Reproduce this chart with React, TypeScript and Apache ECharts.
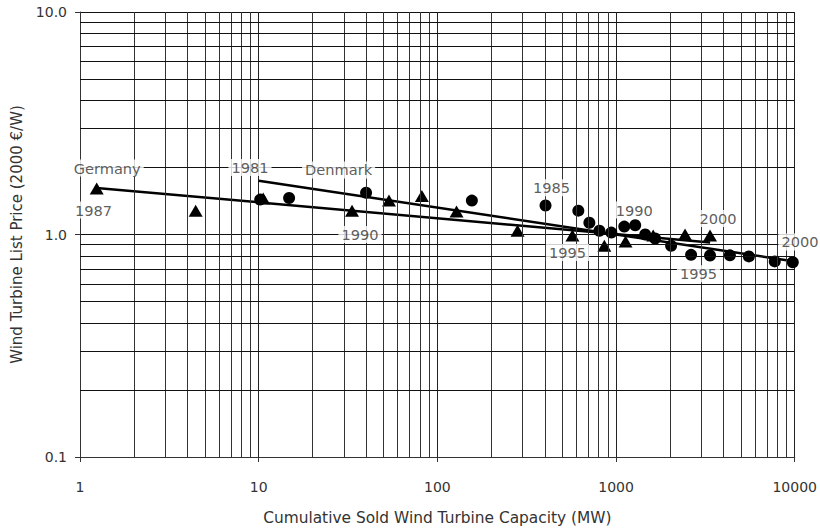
import React, { useEffect, useRef } from 'react';
import * as echarts from 'echarts';

// Tick values
const xTicks = [1, 10, 100, 1000, 10000];
const yTicks = [0.1, 1, 10];

// Germany (triangles)
const germanyX = [1.24, 4.44, 10.6, 33.3, 53.6, 81.9, 128, 281, 570, 860, 1130, 1614, 2433, 3357];
const germanyY = [1.61, 1.28, 1.45, 1.28, 1.42, 1.49, 1.27, 1.04, 0.99, 0.89, 0.93, 0.99, 1.0, 0.99];

// Denmark (circles)
const denmarkX = [10.2, 14.8, 39.9, 156, 403, 615, 709, 807, 941, 1112, 1280, 1456, 1654, 2033, 2630, 3357, 4336, 5537, 7730, 9750];
const denmarkY = [1.435, 1.46, 1.54, 1.42, 1.35, 1.28, 1.13, 1.04, 1.02, 1.085, 1.1, 1.0, 0.96, 0.89, 0.81, 0.805, 0.806, 0.797, 0.757, 0.75];

// Trend lines (experience curves)
const germanyTrendX = [1.24, 3360];
const germanyTrendY = [1.62, 0.92];
const denmarkTrendX = [10.0, 10000];
const denmarkTrendY = [1.745, 0.757];

// Annotations
const noteText = ['Germany', '1987', '1981', 'Denmark', '1990', '1985', '1995', '1990', '2000', '1995', '2000'];
const noteX = [1.42, 1.19, 8.94, 28.0, 36.9, 435, 535, 1265, 3719, 2894, 10700];
const noteY = [1.99, 1.287, 2.0, 1.95, 1.0, 1.623, 0.831, 1.287, 1.179, 0.666, 0.926];

const FONT = 'DejaVu Sans';
const TEXT = '#333';

function minorValues(ticks: number[]): number[] {
  const out: number[] = [];
  for (let i = 0; i < ticks.length - 1; i++) {
    for (let m = 2; m <= 9; m++) out.push(ticks[i] * m);
  }
  return out;
}

export default function App() {
  const ref = useRef<HTMLDivElement>(null);
  useEffect(() => {
    document.body.style.margin = '0';
    const chart = echarts.init(ref.current!, null, { renderer: 'svg' });
    const zip = (xs: number[], ys: number[]) => xs.map((x, i) => [x, ys[i]]);
    const option = {
      animation: false,
      backgroundColor: '#fff',
      textStyle: { fontFamily: FONT },
      grid: { left: 80, right: 23, top: 12, bottom: 71 },
      xAxis: {
        type: 'log',
        logBase: 10,
        min: xTicks[0],
        max: xTicks[xTicks.length - 1],
        name: 'Cumulative Sold Wind Turbine Capacity (MW)',
        nameLocation: 'middle',
        nameGap: 53,
        nameTextStyle: { fontSize: 15.4, color: TEXT, fontFamily: FONT },
        axisLine: { lineStyle: { color: '#333', width: 1 } },
        axisTick: { show: true, length: 5, lineStyle: { color: '#333' } },
        axisLabel: {
          fontSize: 14,
          color: TEXT,
          fontFamily: FONT,
          margin: 23,
          formatter: (v: number) => String(Math.round(v)),
        },
        splitLine: { show: true, lineStyle: { color: '#222', width: 1 } },
      },
      yAxis: {
        type: 'log',
        logBase: 10,
        min: yTicks[0],
        max: yTicks[yTicks.length - 1],
        name: 'Wind Turbine List Price (2000 €/W)',
        nameLocation: 'middle',
        nameGap: 54,
        nameTextStyle: { fontSize: 15, color: TEXT, fontFamily: FONT },
        axisLine: { show: true, lineStyle: { color: '#333', width: 1 } },
        axisTick: { show: true, length: 5, lineStyle: { color: '#333' } },
        axisLabel: {
          fontSize: 14,
          color: TEXT,
          fontFamily: FONT,
          margin: 13,
          formatter: (v: number) => v.toFixed(1),
        },
        splitLine: { show: true, lineStyle: { color: '#111', width: 1 } },
      },
      series: [
        {
          name: 'grid',
          type: 'line',
          data: [],
          silent: true,
          z: 1,
          markLine: {
            silent: true,
            symbol: 'none',
            animation: false,
            label: { show: false },
            emphasis: { disabled: true },
            data: [
              ...minorValues(xTicks).map((v) => ({ xAxis: v, lineStyle: { color: '#333', width: 1, type: 'solid' } })),
              ...minorValues(yTicks).map((v) => ({ yAxis: v, lineStyle: { color: '#111', width: 1, type: 'solid' } })),
            ],
          },
        },
        {
          name: 'Germany trend',
          type: 'line',
          data: zip(germanyTrendX, germanyTrendY),
          symbol: 'none',
          lineStyle: { color: '#000', width: 2.5 },
          z: 3,
          silent: true,
        },
        {
          name: 'Denmark trend',
          type: 'line',
          data: zip(denmarkTrendX, denmarkTrendY),
          symbol: 'none',
          lineStyle: { color: '#000', width: 2.5 },
          z: 3,
          silent: true,
        },
        {
          name: 'Germany',
          type: 'scatter',
          data: zip(germanyX, germanyY),
          symbol: 'triangle',
          symbolSize: [14, 12],
          itemStyle: { color: '#000', opacity: 1 },
          z: 4,
        },
        {
          name: 'Denmark',
          type: 'scatter',
          data: zip(denmarkX, denmarkY),
          symbol: 'circle',
          symbolSize: 12,
          itemStyle: { color: '#000', opacity: 1 },
          z: 4,
        },
        {
          name: 'notes',
          type: 'scatter',
          clip: false,
          silent: true,
          symbolSize: 0,
          z: 5,
          data: noteText.map((t, i) => ({ name: t, value: [noteX[i], noteY[i]] })),
          label: {
            show: true,
            position: 'inside',
            formatter: (p: any) => p.name,
            fontSize: 14.6,
            fontFamily: FONT,
            color: TEXT,
            backgroundColor: '#fff',
            padding: [1, 3],
          },
        },
      ],
    };
    chart.setOption(option as any);
    return () => chart.dispose();
  }, []);
  return <div ref={ref} style={{ width: 820, height: 530 }} />;
}
